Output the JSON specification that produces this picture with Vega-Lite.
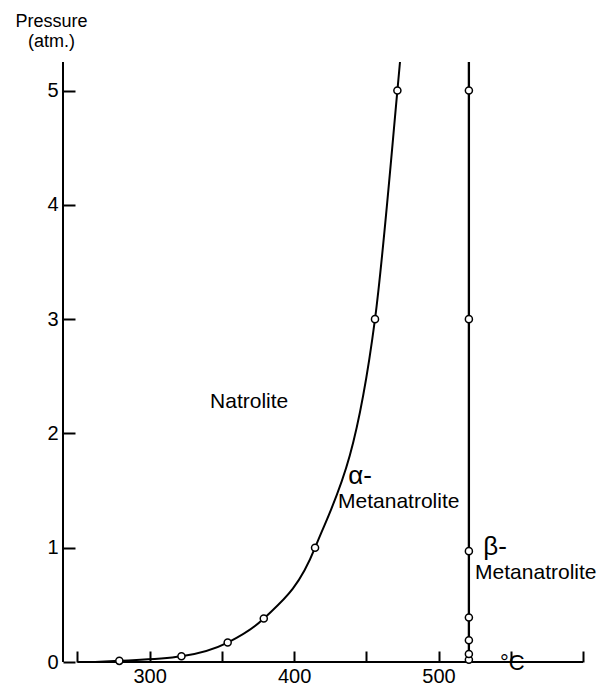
{
  "$schema": "https://vega.github.io/schema/vega-lite/v6.json",
  "width": 520,
  "height": 600,
  "autosize": {"type": "none"},
  "padding": {"left": 63, "top": 62, "right": 16, "bottom": 25},
  "background": "white",
  "config": {"view": {"stroke": null}, "font": "Liberation Sans"},
  "datasets": {
    "curves": [
      {"series": "a", "t": 262, "p": 0, "pt": 0},
      {"series": "a", "t": 279, "p": 0.01, "pt": 1},
      {"series": "a", "t": 322, "p": 0.05, "pt": 1},
      {"series": "a", "t": 354, "p": 0.17, "pt": 1},
      {"series": "a", "t": 379, "p": 0.38, "pt": 1},
      {"series": "a", "t": 414.5, "p": 1.0, "pt": 1},
      {"series": "a", "t": 456, "p": 3.0, "pt": 1},
      {"series": "a", "t": 471.5, "p": 5.0, "pt": 1},
      {"series": "a", "t": 473.3, "p": 5.25, "pt": 0},
      {"series": "b", "t": 521, "p": 0, "pt": 0},
      {"series": "b", "t": 521, "p": 0.02, "pt": 1},
      {"series": "b", "t": 521, "p": 0.07, "pt": 1},
      {"series": "b", "t": 521, "p": 0.19, "pt": 1},
      {"series": "b", "t": 521, "p": 0.39, "pt": 1},
      {"series": "b", "t": 521, "p": 0.97, "pt": 1},
      {"series": "b", "t": 521, "p": 3.0, "pt": 1},
      {"series": "b", "t": 521, "p": 5.0, "pt": 1},
      {"series": "b", "t": 521, "p": 5.25, "pt": 0}
    ],
    "labels": [
      {"kind": "name", "label": "Natrolite", "t": 341.8, "p": 2.22},
      {"kind": "name", "label": "Metanatrolite", "t": 430.4, "p": 1.35},
      {"kind": "name", "label": "Metanatrolite", "t": 525.3, "p": 0.73},
      {"kind": "greek", "label": "α-", "t": 437.4, "p": 1.56},
      {"kind": "greek", "label": "β-", "t": 530.9, "p": 0.94},
      {"kind": "unit", "label": "°C", "t": 551, "p": -0.07}
    ],
    "baseline": [{"t": 250, "t2": 600, "p": 0}],
    "yaxis": [{"t": 240, "p": 0, "p2": 5.25}]
  },
  "layer": [
    {
      "data": {"name": "baseline"},
      "mark": {"type": "rule", "color": "black", "strokeWidth": 2},
      "encoding": {
        "x": {"field": "t", "type": "quantitative", "scale": {"domain": [240, 600], "nice": false, "zero": false},
          "title": null,
          "axis": {"domain": false, "grid": false, "values": [250, 300, 350, 400, 450, 500, 550, 600],
            "offset": -11, "tickSize": 11, "tickWidth": 2, "tickColor": "black",
            "labelExpr": "(datum.value == 300 || datum.value == 400 || datum.value == 500) ? datum.label : ''",
            "labelFontSize": 20, "labelColor": "black", "labelPadding": 4, "labelFont": "Liberation Sans"}},
        "x2": {"field": "t2"},
        "y": {"field": "p", "type": "quantitative", "scale": {"domain": [0, 5.25], "nice": false},
          "title": ["Pressure", "(atm.)"],
          "axis": {"domain": false, "grid": false, "offset": -12,
            "values": [0, 1, 2, 3, 4, 5], "format": "d", "tickSize": 12, "tickWidth": 2, "tickColor": "black",
            "labelFontSize": 20, "labelColor": "black", "labelPadding": 5, "labelFont": "Liberation Sans",
            "titleAngle": 0, "titleX": -24, "titleY": -36, "titleAlign": "center", "titleBaseline": "alphabetic",
            "titleFontSize": 18, "titleFontWeight": "normal", "titleColor": "black", "titleLineHeight": 20,
            "titleFont": "Liberation Sans"}}
      }
    },
    {
      "data": {"name": "yaxis"},
      "mark": {"type": "rule", "color": "black", "strokeWidth": 2},
      "encoding": {
        "x": {"field": "t", "type": "quantitative"},
        "y": {"field": "p", "type": "quantitative"},
        "y2": {"field": "p2"}
      }
    },
    {
      "data": {"name": "curves"},
      "transform": [{"filter": "datum.series == 'a'"}],
      "mark": {"type": "line", "interpolate": "monotone", "color": "black", "strokeWidth": 2},
      "encoding": {
        "x": {"field": "t", "type": "quantitative"},
        "y": {"field": "p", "type": "quantitative"},
        "order": {"field": "p", "type": "quantitative"}
      }
    },
    {
      "data": {"name": "curves"},
      "transform": [{"filter": "datum.series == 'b'"}],
      "mark": {"type": "line", "color": "black", "strokeWidth": 2.3},
      "encoding": {
        "x": {"field": "t", "type": "quantitative"},
        "y": {"field": "p", "type": "quantitative"},
        "order": {"field": "p", "type": "quantitative"}
      }
    },
    {
      "data": {"name": "curves"},
      "transform": [{"filter": "datum.pt == 1"}],
      "mark": {"type": "point", "shape": "circle", "filled": true, "fill": "white", "stroke": "black", "strokeWidth": 1.5, "size": 50, "opacity": 1},
      "encoding": {
        "x": {"field": "t", "type": "quantitative"},
        "y": {"field": "p", "type": "quantitative"}
      }
    },
    {
      "data": {"name": "labels"},
      "transform": [{"filter": "datum.kind == 'name'"}],
      "mark": {"type": "text", "align": "left", "baseline": "alphabetic", "fontSize": 21, "color": "black", "font": "Liberation Sans"},
      "encoding": {
        "x": {"field": "t", "type": "quantitative"},
        "y": {"field": "p", "type": "quantitative"},
        "text": {"field": "label"}
      }
    },
    {
      "data": {"name": "labels"},
      "transform": [{"filter": "datum.kind == 'greek'"}],
      "mark": {"type": "text", "align": "left", "baseline": "alphabetic", "fontSize": 26, "color": "black", "font": "Liberation Sans"},
      "encoding": {
        "x": {"field": "t", "type": "quantitative"},
        "y": {"field": "p", "type": "quantitative"},
        "text": {"field": "label"}
      }
    },
    {
      "data": {"name": "labels"},
      "transform": [{"filter": "datum.kind == 'unit'"}],
      "mark": {"type": "text", "align": "center", "baseline": "alphabetic", "fontSize": 22, "color": "black", "font": "Liberation Sans"},
      "encoding": {
        "x": {"field": "t", "type": "quantitative"},
        "y": {"field": "p", "type": "quantitative"},
        "text": {"field": "label"}
      }
    }
  ]
}
